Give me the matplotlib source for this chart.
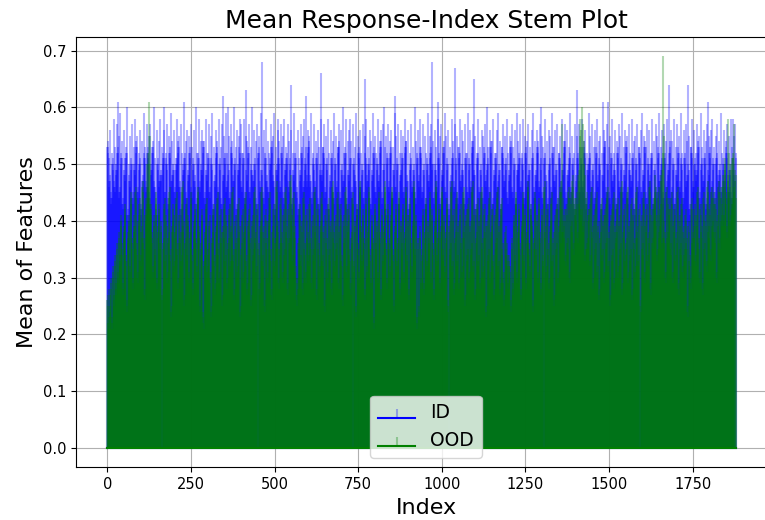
import numpy as np
import matplotlib
matplotlib.use("Agg")
import matplotlib.pyplot as plt

# Mean of features per sample index (values x 100)
id_pct = [
    53,52,54,53,51,47,46,48,47,56,44,45,43,44,52,50,51,49,50,58,46,47,45,46,53,49,48,50,49,57,52,53,61,52,55,45,44,46,45,59,
    51,50,52,51,54,43,42,44,43,56,48,49,47,48,51,52,51,53,52,60,41,42,40,41,50,47,48,46,47,55,50,49,51,50,57,44,43,45,44,53,
    49,50,48,49,58,53,52,54,53,55,45,46,44,45,52,50,49,51,50,56,42,43,41,42,54,47,46,48,47,59,51,52,50,51,53,46,45,47,46,57,
    52,51,53,52,55,44,45,43,44,57,49,48,50,49,52,53,54,52,53,60,46,47,45,46,51,41,40,42,41,56,50,51,49,50,54,47,46,48,47,58,
    48,49,47,48,53,51,50,52,51,56,60,45,44,45,52,50,51,49,50,57,43,44,42,43,55,52,53,51,52,59,47,46,48,47,54,49,50,48,49,56,
    45,44,46,45,51,50,49,51,50,58,53,52,54,53,55,46,47,45,46,57,42,41,43,42,52,49,50,48,49,61,51,52,50,51,54,44,45,43,44,56,
    48,47,49,48,55,52,53,51,52,57,45,46,44,45,53,50,49,51,50,56,47,48,46,47,60,43,42,44,43,52,51,50,52,51,58,46,47,45,46,54,
    49,50,48,49,56,53,52,54,53,54,44,43,45,44,58,48,49,47,48,52,51,50,52,51,57,45,46,44,45,55,50,51,49,50,59,42,43,41,42,53,
    47,48,46,47,56,52,51,53,52,54,45,44,46,45,58,50,49,51,50,53,43,44,42,43,57,48,62,47,48,55,51,52,50,51,59,46,45,47,46,52,
    60,50,48,49,55,44,45,43,44,57,52,53,51,52,54,47,46,48,47,60,50,51,49,50,53,42,41,43,42,56,49,48,50,49,55,53,52,51,58,57,
    46,47,45,46,52,51,50,52,51,58,44,43,45,44,55,63,49,47,48,54,52,53,51,52,57,45,46,44,45,53,49,50,48,49,60,47,46,48,47,56,
    50,51,49,50,54,43,44,42,43,57,52,51,53,52,55,46,45,47,46,59,49,68,48,49,53,44,45,43,44,56,51,52,50,51,58,47,48,46,47,54,
    45,46,44,45,52,50,49,51,50,57,53,52,54,53,55,47,48,46,47,59,42,43,41,42,53,49,50,48,49,56,51,58,50,51,54,46,45,47,46,57,
    52,51,53,52,55,44,45,43,44,58,49,48,50,49,53,51,52,50,51,57,46,47,45,46,54,50,49,51,64,56,43,42,44,43,52,48,49,47,48,59,
    51,50,52,51,54,45,46,44,45,56,42,41,43,42,51,48,47,49,48,57,52,53,51,52,55,46,45,47,46,58,50,51,49,50,53,62,48,46,47,56,
    53,52,54,53,55,47,48,46,47,59,44,43,45,44,52,50,51,49,50,57,46,45,47,46,54,51,52,50,51,56,43,44,42,43,53,49,50,48,66,58,
    48,47,49,48,53,52,53,51,52,57,45,44,46,45,55,50,49,51,50,58,42,43,41,42,52,47,48,46,47,56,51,50,52,51,54,44,45,43,44,59,
    50,51,49,50,55,46,45,47,46,53,53,52,54,53,57,44,43,45,44,56,49,50,48,49,60,47,46,48,47,52,52,51,53,52,58,43,44,42,43,54,
    48,49,47,48,56,51,58,50,51,54,45,46,44,45,57,50,49,51,50,53,47,48,46,47,59,42,41,43,42,55,52,53,51,52,56,46,45,47,46,52,
    49,50,48,49,57,44,43,45,44,55,65,52,50,51,58,47,46,48,47,53,50,51,49,50,56,43,44,42,43,54,48,49,47,48,59,52,51,53,52,55,
    45,46,44,45,52,50,49,51,50,58,47,48,46,47,54,53,52,54,53,56,44,45,43,44,57,49,50,60,49,53,42,43,41,42,55,51,50,52,51,57,
    46,47,45,46,54,52,51,53,52,56,44,43,45,44,53,49,48,50,49,59,62,46,45,46,55,50,51,49,50,57,43,44,42,43,52,48,47,49,48,56,
    51,52,50,51,55,45,44,46,45,58,53,52,54,53,54,47,48,46,47,56,42,41,43,42,52,50,49,51,50,57,46,47,45,46,53,49,50,48,49,60,
    44,45,43,44,54,51,50,52,51,56,47,46,48,47,58,52,53,51,52,53,45,46,44,45,57,49,48,50,49,55,43,42,44,43,52,50,51,49,50,59,
    47,48,46,47,55,52,51,53,52,57,50,49,68,50,54,44,45,43,44,56,49,50,48,49,53,46,45,47,61,58,51,52,50,51,55,43,44,42,43,57,
    48,49,47,48,52,53,52,54,53,59,45,46,44,45,55,50,49,51,50,56,42,43,41,42,53,47,48,46,47,58,51,50,52,51,54,46,45,47,46,57,
    67,50,51,49,55,44,45,43,44,53,52,53,51,52,58,47,46,48,47,56,49,50,48,49,54,43,42,44,43,57,51,52,50,51,52,45,46,44,45,59,
    50,49,51,50,56,46,47,45,46,54,53,52,54,53,57,48,49,65,48,55,42,43,41,42,52,51,50,52,51,58,45,44,46,45,53,49,50,48,49,56,
    44,45,43,44,55,52,51,53,52,57,47,48,46,47,60,50,49,51,50,53,45,46,44,45,56,53,52,54,53,54,43,42,44,43,58,48,49,47,48,52,
    51,50,52,51,56,46,45,47,46,59,49,50,48,49,54,42,43,41,42,53,52,53,51,52,57,47,46,48,47,55,50,51,49,50,58,44,45,43,44,52,
    48,47,49,48,55,53,52,54,53,57,45,46,44,45,53,50,49,51,50,56,43,44,42,43,59,49,48,50,49,54,51,52,50,51,57,46,45,47,46,52,
    50,51,49,50,58,44,43,45,44,55,52,53,51,52,54,47,46,48,47,57,49,50,48,49,53,42,41,43,42,56,51,50,52,51,59,45,46,44,45,54,
    48,49,47,48,56,53,52,54,53,52,46,45,47,46,57,50,51,49,60,55,44,45,43,44,53,51,50,52,51,58,47,48,46,47,54,43,42,44,43,56,
    50,49,51,50,55,45,46,44,45,59,52,51,53,52,53,47,48,46,47,56,49,50,48,49,57,43,44,42,43,52,51,52,50,51,55,46,45,47,46,58,
    49,50,48,49,54,53,52,54,53,57,44,43,45,44,56,48,49,47,48,53,51,50,52,51,59,45,46,44,45,55,50,49,51,50,52,42,43,41,42,57,
    47,48,46,63,55,51,52,50,51,57,45,44,46,45,53,50,49,51,50,58,46,47,45,46,54,52,53,51,52,56,43,44,42,43,52,49,48,50,49,59,
    51,50,52,51,55,46,45,47,46,57,49,50,48,49,53,44,43,45,44,56,52,53,51,52,58,47,46,48,47,54,50,51,49,50,55,42,41,43,42,52,
    48,61,47,48,56,53,52,54,53,54,45,46,44,45,57,50,49,61,50,53,44,45,43,44,55,51,50,52,51,58,47,48,46,47,52,49,50,48,49,56,
    43,44,42,43,54,52,51,53,52,57,46,47,45,46,55,50,49,51,50,59,45,44,46,45,53,48,49,47,48,56,53,52,54,53,55,44,43,45,44,57,
    49,50,48,49,52,47,46,48,47,58,51,52,50,51,54,42,43,41,42,55,50,49,51,50,57,46,45,47,46,53,52,53,51,52,56,45,46,44,45,59,
    48,47,49,48,55,53,52,54,53,53,44,45,43,44,57,50,51,49,50,56,47,46,48,47,52,51,50,52,51,58,43,44,42,43,54,49,48,50,49,57,
    45,46,44,45,55,52,51,53,52,59,47,48,46,47,53,50,49,51,50,56,44,43,45,44,57,51,52,50,51,54,46,45,47,46,58,49,50,48,49,52,
    64,52,54,53,56,45,44,46,45,54,50,49,51,50,58,43,42,44,43,53,48,49,47,48,57,52,51,53,52,55,46,47,45,46,59,50,51,49,50,52,
    44,45,43,44,56,51,50,52,51,57,47,46,48,47,54,64,50,48,49,55,42,43,41,42,53,52,53,51,52,58,46,45,47,46,56,50,49,51,50,52,
    48,47,49,48,57,53,52,54,53,55,44,45,43,44,59,50,49,51,50,53,47,48,46,47,56,51,52,50,51,54,43,42,44,43,57,61,49,47,48,55,
    52,51,53,52,56,46,45,47,46,58,50,51,49,50,53,44,43,45,44,55,51,50,52,51,57,47,48,46,47,54,49,50,48,49,59,45,44,46,45,52,
    50,49,51,50,56,47,48,46,47,54,52,53,51,52,57,45,44,46,45,55,49,50,48,49,58,44,45,43,44,53,58,51,49,50,55,48,47,57,52,51,
]

ood_pct = [
    26,25,27,22,21,23,28,27,24,25,29,30,28,22,23,21,31,32,30,26,25,27,33,34,32,28,27,29,35,36,34,30,29,31,37,36,38,33,32,34,
    40,39,41,35,34,36,28,27,29,38,37,39,42,41,43,33,32,34,25,24,26,37,38,36,40,41,39,31,30,32,44,43,45,36,35,37,29,28,30,39,
    41,38,37,39,45,44,46,35,34,36,30,29,31,40,41,39,43,44,42,33,32,34,38,37,39,46,45,47,36,35,37,27,26,28,41,40,42,44,50,43,
    41,46,52,44,61,50,43,55,42,40,42,41,43,37,36,38,31,30,32,40,39,41,34,33,35,44,43,45,29,28,30,38,39,37,42,41,43,35,34,36,
    39,38,40,27,26,28,36,35,37,43,42,44,33,32,34,40,41,39,30,29,31,37,36,38,45,44,46,34,33,35,24,23,25,39,38,40,42,43,41,32,
    31,33,38,37,39,44,43,45,35,34,36,29,28,30,41,40,42,37,36,38,33,32,34,46,45,47,39,38,40,26,25,27,36,35,37,43,42,44,34,33,
    40,39,41,30,29,31,37,38,36,44,43,45,34,33,35,28,27,29,39,40,38,42,41,43,36,35,37,31,30,32,45,44,46,38,37,39,25,24,26,35,
    34,36,41,40,42,23,22,24,21,33,32,34,38,37,39,43,42,44,31,30,32,35,34,36,40,39,41,30,29,31,24,23,25,37,36,38,42,41,43,33,
    32,34,28,27,29,39,38,40,44,43,45,35,34,36,30,29,31,41,40,42,37,36,38,26,25,27,38,39,37,43,42,44,33,32,34,40,41,39,29,28,
    30,36,35,37,42,41,43,32,31,33,38,39,37,45,44,46,34,33,35,27,26,28,40,39,41,36,35,37,31,30,32,43,42,44,38,37,39,24,23,25,
    35,34,36,41,40,42,30,29,31,38,37,39,44,43,45,33,32,34,28,27,29,39,40,38,42,41,43,36,35,37,26,25,27,40,39,41,34,33,35,45,
    44,46,37,36,38,31,30,32,42,41,43,35,34,36,28,27,29,39,38,40,45,44,46,33,32,34,38,37,39,25,24,26,41,40,42,36,35,37,30,29,
    31,40,39,41,44,43,45,34,33,35,27,26,28,38,37,39,42,41,43,32,31,33,36,35,37,46,45,47,39,38,40,29,28,30,35,34,36,43,42,44,
    37,36,38,30,29,31,41,40,42,34,33,35,45,44,46,38,37,39,28,27,29,42,43,41,36,35,37,47,46,48,40,39,41,33,32,34,44,43,45,38,
    37,39,31,30,32,26,25,27,29,28,30,36,35,37,42,41,43,33,32,34,39,38,40,28,27,29,44,43,45,35,34,36,30,29,31,41,40,42,37,36,
    38,33,32,34,43,42,44,36,35,37,29,28,30,40,39,41,34,33,35,45,44,46,38,37,39,27,26,28,42,41,43,35,34,36,31,30,32,39,40,38,
    44,43,45,33,32,34,38,37,39,25,24,26,41,40,42,36,35,37,30,29,31,43,42,44,34,33,35,39,38,40,28,27,29,46,45,47,37,36,38,32,
    31,33,40,39,41,35,34,36,44,43,45,29,28,30,38,37,39,42,41,43,33,32,34,26,25,27,40,39,41,36,35,37,45,44,46,31,30,32,39,38,
    40,42,41,43,34,33,35,28,27,29,37,36,38,44,43,45,32,31,33,39,40,38,24,23,25,42,41,43,35,34,36,30,29,31,46,45,47,38,37,39,
    33,32,34,41,40,42,36,35,37,27,26,28,43,42,44,31,30,32,38,37,39,45,44,46,34,33,35,29,28,30,40,39,41,36,35,37,22,21,23,42,
    41,43,35,34,36,39,38,40,30,29,31,44,43,45,37,36,38,27,26,28,41,40,42,33,32,34,38,37,39,46,45,47,35,34,36,29,28,30,42,41,
    43,36,35,37,31,30,32,40,39,41,45,44,46,34,33,35,25,24,26,38,37,39,42,41,43,32,31,33,36,35,37,44,43,45,28,27,29,39,40,38,
    35,34,36,42,41,43,30,29,31,37,36,38,45,44,46,33,32,34,40,39,41,27,26,28,43,42,44,36,35,37,31,30,32,39,38,40,46,45,47,34,
    33,35,40,39,41,22,21,23,36,35,37,24,23,25,38,37,39,29,28,30,34,33,35,41,40,42,28,27,29,37,36,38,43,42,44,32,31,33,39,38,
    40,36,35,37,44,43,45,30,29,31,41,40,42,35,34,36,27,26,28,39,38,40,46,45,47,33,32,34,37,36,38,42,41,43,29,28,30,38,39,37,
    45,44,46,34,33,35,40,39,41,31,30,32,37,36,38,43,42,44,25,24,26,39,38,40,35,34,36,46,45,47,32,31,33,41,40,42,28,27,29,37,
    36,38,44,43,45,33,32,34,39,38,40,29,28,30,42,41,43,36,35,37,31,30,32,45,44,46,38,37,39,26,25,27,41,40,42,34,33,35,43,42,
    44,30,29,31,39,38,40,35,34,36,46,45,47,32,31,33,41,40,42,27,26,28,37,36,38,43,42,44,33,32,34,40,39,41,29,28,30,45,44,46,
    36,35,37,31,30,32,42,41,43,38,37,39,24,23,25,40,39,41,34,33,35,44,43,45,30,29,31,38,37,39,42,41,43,33,32,34,27,26,28,41,
    40,42,36,35,37,45,44,46,32,31,33,39,38,40,28,27,29,43,42,44,35,34,36,30,29,31,26,25,27,38,37,39,35,34,36,33,32,34,29,28,
    33,32,34,31,30,32,25,24,26,36,35,37,28,27,29,40,39,41,33,32,34,44,43,45,30,29,31,38,37,39,42,41,43,35,34,36,27,26,28,39,
    38,40,44,43,45,33,32,34,41,40,42,29,28,30,37,36,38,46,45,47,35,34,36,31,30,32,42,41,43,39,38,40,25,24,26,36,35,37,44,43,
    45,34,33,35,40,39,41,30,29,31,43,42,44,37,36,38,28,27,29,41,40,42,33,32,34,46,45,47,38,37,39,31,30,32,42,41,43,35,34,36,
    29,28,30,39,38,40,44,43,45,33,32,34,37,36,38,26,25,27,41,40,42,35,34,36,43,42,44,30,29,31,39,38,40,46,45,47,36,45,38,42,
    57,40,44,38,37,39,41,40,42,33,32,34,42,41,43,36,35,37,45,44,46,30,29,31,44,43,45,39,38,40,47,46,48,35,34,36,43,42,44,41,
    40,42,44,43,45,37,36,38,48,47,49,43,42,55,58,56,41,40,42,53,60,57,39,38,40,50,54,48,34,33,35,44,43,45,36,35,37,41,40,42,
    42,41,43,33,32,34,45,44,46,38,37,39,29,28,30,41,40,42,35,34,36,44,43,45,31,30,32,39,38,40,27,26,28,37,36,38,43,42,44,34,
    33,35,40,39,41,30,29,31,42,41,43,36,35,37,45,44,46,32,31,33,38,37,39,26,25,27,41,40,42,34,33,35,44,43,45,29,28,30,39,38,
    40,37,36,38,43,42,44,31,30,32,40,39,41,35,34,36,46,45,47,28,27,29,38,37,39,42,41,43,33,32,34,36,35,37,45,44,46,30,29,31,
    39,38,40,34,33,35,43,42,44,27,26,28,41,40,42,36,35,37,31,30,32,45,44,46,38,37,39,33,32,34,42,41,43,25,24,26,40,39,41,35,
    34,36,44,43,45,30,29,31,39,38,40,42,41,43,33,32,34,37,36,38,46,45,47,28,27,29,41,40,42,36,35,37,43,42,44,40,45,48,44,46,
    40,39,41,34,33,35,45,44,46,38,37,39,42,41,43,48,47,49,36,35,37,52,69,55,40,37,36,38,30,29,31,45,44,46,37,36,38,43,42,44,
    41,40,42,35,34,36,44,43,45,30,29,31,39,38,40,42,41,43,33,32,34,37,36,38,45,44,46,28,27,29,40,39,41,35,34,36,43,42,44,31,
    30,32,38,37,39,34,33,35,41,40,42,36,35,37,24,23,25,39,38,40,33,32,34,29,28,30,43,42,44,36,35,37,38,37,39,42,41,43,33,32,
    34,40,39,41,45,44,46,36,35,37,30,29,31,42,41,43,38,37,39,28,27,29,44,43,45,35,34,36,40,39,41,32,31,33,46,45,47,38,37,39,
    42,41,43,34,33,35,45,44,46,39,38,40,44,43,45,37,36,38,43,42,44,30,29,31,40,39,41,46,45,47,36,35,37,45,44,46,40,39,41,43,
    47,46,48,40,39,41,50,49,51,44,43,45,38,37,39,48,47,58,52,45,44,46,40,39,41,50,49,51,43,42,44,52,51,57,46,45,47,49,48,44,
]

series_labels = ["ID", "OOD"]
title_text = "Mean Response-Index Stem Plot"
x_label = "Index"
y_label = "Mean of Features"

id_vals = np.array(id_pct) / 100.0
ood_vals = np.array(ood_pct) / 100.0

fig = plt.figure(figsize=(7.65, 5.2), dpi=100)
ax = fig.add_axes([76 / 765, 52.7 / 520, 700 / 765, 430.6 / 520])

ml1, sl1, bl1 = ax.stem(np.arange(len(id_vals)), id_vals, linefmt="b-",
                        markerfmt=" ", basefmt="b-", label=series_labels[0])
sl1.set_alpha(0.3)
ml2, sl2, bl2 = ax.stem(np.arange(len(ood_vals)), ood_vals, linefmt="g-",
                        markerfmt=" ", basefmt="g-", label=series_labels[1])
sl2.set_alpha(0.3)

ax.set_xlim(-93.6, -93.6 + 700 / 0.3345)
ax.spines["right"].set_visible(False)
ax.set_title(title_text, fontsize=18)
ax.set_xlabel(x_label, fontsize=16)
ax.set_ylabel(y_label, fontsize=16)
ax.tick_params(labelsize=10.5)
ax.grid(True)
ax.legend(loc="lower center", fontsize=13.5)

fig.savefig("out.png", dpi=100)
